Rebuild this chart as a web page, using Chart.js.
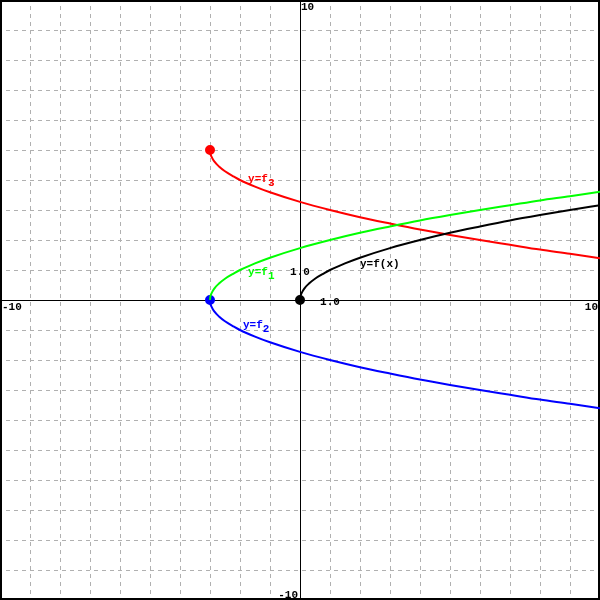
<!DOCTYPE html>
<html>
<head>
<meta charset="utf-8">
<script src="https://cdn.jsdelivr.net/npm/chart.js@4/dist/chart.umd.min.js"></script>
<style>
  body { margin: 0; background: #fff; }
  canvas { display: block; }
</style>
</head>
<body>
<canvas id="myChart" width="600" height="600"></canvas>
<script>
// x range and tick labels
const xMin = -10, xMax = 10, yMin = -10, yMax = 10;
const edgeLabels = ["10", "-10", "10", "-10"];
const unitLabel = "1.0";

// y = f(x)
const xF = [0, 0.01, 0.05, 0.15, 0.3, 0.5, 0.8, 1, 1.5, 2, 3, 4, 5, 6, 7, 8, 9, 10];
const yF = [0, 0.1, 0.22, 0.39, 0.55, 0.71, 0.89, 1, 1.22, 1.41, 1.73, 2, 2.24, 2.45, 2.65, 2.83, 3, 3.16];

// f1, f2, f3 share the same x samples
const xG = [-3, -2.99, -2.95, -2.85, -2.7, -2.5, -2.2, -2, -1.5, -1, 0, 1, 2, 3, 4, 5, 6, 7, 8, 9, 10];
const yF1 = [0, 0.1, 0.22, 0.39, 0.55, 0.71, 0.89, 1, 1.22, 1.41, 1.73, 2, 2.24, 2.45, 2.65, 2.83, 3, 3.16, 3.32, 3.46, 3.61];
const yF2 = [0, -0.1, -0.22, -0.39, -0.55, -0.71, -0.89, -1, -1.22, -1.41, -1.73, -2, -2.24, -2.45, -2.65, -2.83, -3, -3.16, -3.32, -3.46, -3.61];
const yF3 = [5, 4.9, 4.78, 4.61, 4.45, 4.29, 4.11, 4, 3.78, 3.59, 3.27, 3, 2.76, 2.55, 2.35, 2.17, 2, 1.84, 1.68, 1.54, 1.39];

const pts = (xs, ys) => xs.map((x, i) => ({ x: x, y: ys[i] }));
const FONT = "bold 11px 'Liberation Mono', 'Courier New', monospace";

function curve(label, xs, ys, color, dot) {
  return {
    label: label,
    data: pts(xs, ys),
    showLine: true,
    borderColor: color,
    backgroundColor: color,
    borderWidth: 2,
    cubicInterpolationMode: 'monotone',
    pointRadius: ctx => (dot && ctx.dataIndex === 0) ? 4 : 0,
    pointHoverRadius: 0,
    clip: false
  };
}

const gridPlugin = {
  id: 'grid',
  beforeDatasetsDraw(chart) {
    const c = chart.ctx, xs = chart.scales.x, ys = chart.scales.y;
    const w = chart.width, h = chart.height;
    c.save();
    c.strokeStyle = '#b0b0b0';
    c.lineWidth = 1;
    c.setLineDash([4, 4]);
    c.lineDashOffset = 2;
    for (let v = xMin + 1; v < xMax; v++) {
      if (v === 0) continue;
      const px = Math.round(xs.getPixelForValue(v)) + 0.5;
      c.beginPath(); c.moveTo(px, 0); c.lineTo(px, h); c.stroke();
    }
    for (let v = yMin + 1; v < yMax; v++) {
      if (v === 0) continue;
      const py = Math.round(ys.getPixelForValue(v)) + 0.5;
      c.beginPath(); c.moveTo(0, py); c.lineTo(w, py); c.stroke();
    }
    c.setLineDash([]);
    c.strokeStyle = '#000';
    const x0 = Math.round(xs.getPixelForValue(0)) + 0.5;
    const y0 = Math.round(ys.getPixelForValue(0)) + 0.5;
    c.beginPath(); c.moveTo(x0, 0); c.lineTo(x0, h); c.stroke();
    c.beginPath(); c.moveTo(0, y0); c.lineTo(w, y0); c.stroke();
    c.lineWidth = 2;
    c.strokeRect(1, 1, w - 2, h - 2);
    c.restore();
  },
  afterDatasetsDraw(chart) {
    const c = chart.ctx, xs = chart.scales.x, ys = chart.scales.y;
    const X = v => xs.getPixelForValue(v), Y = v => ys.getPixelForValue(v);
    c.save();
    c.font = FONT;
    c.textBaseline = 'middle';

    // axis labels
    c.fillStyle = '#000';
    c.textAlign = 'left';
    c.fillText(edgeLabels[0], X(0) + 1, 7);
    c.fillText(edgeLabels[1], 2, Y(0) + 7);
    c.textAlign = 'right';
    c.fillText(edgeLabels[2], chart.width - 2, Y(0) + 7);
    c.fillText(edgeLabels[3], X(0) - 2, chart.height - 5);
    c.textAlign = 'center';
    c.fillText(unitLabel, X(0), Y(1) + 2);
    c.fillText(unitLabel, X(1), Y(0) + 2);

    // curve labels
    c.textAlign = 'left';
    c.fillText('y=f(x)', X(2), Y(1.2));
    const sub = (txt, s, x, y, col) => {
      c.fillStyle = col;
      c.fillText(txt, X(x), Y(y));
      const wd = c.measureText(txt).width;
      c.fillText(s, X(x) + wd, Y(y) + 4);
    };
    sub('y=f', '1', -1.73, 0.93, '#00ff00');
    sub('y=f', '2', -1.9, -0.83, '#0000ff');
    sub('y=f', '3', -1.73, 4.03, '#ff0000');
    c.restore();
  }
};

new Chart(document.getElementById('myChart').getContext('2d'), {
  type: 'scatter',
  data: {
    datasets: [
      curve('f1', xG, yF1, '#00ff00', false),
      curve('f', xF, yF, '#000000', true),
      curve('f3', xG, yF3, '#ff0000', true),
      curve('f2', xG, yF2, '#0000ff', true)
    ]
  },
  options: {
    responsive: false,
    animation: false,
    events: [],
    layout: { padding: 0, autoPadding: false },
    plugins: { legend: { display: false }, tooltip: { enabled: false } },
    scales: {
      x: { type: 'linear', min: xMin, max: xMax, display: false },
      y: { type: 'linear', min: yMin, max: yMax, display: false }
    }
  },
  plugins: [gridPlugin]
});
</script>
</body>
</html>
